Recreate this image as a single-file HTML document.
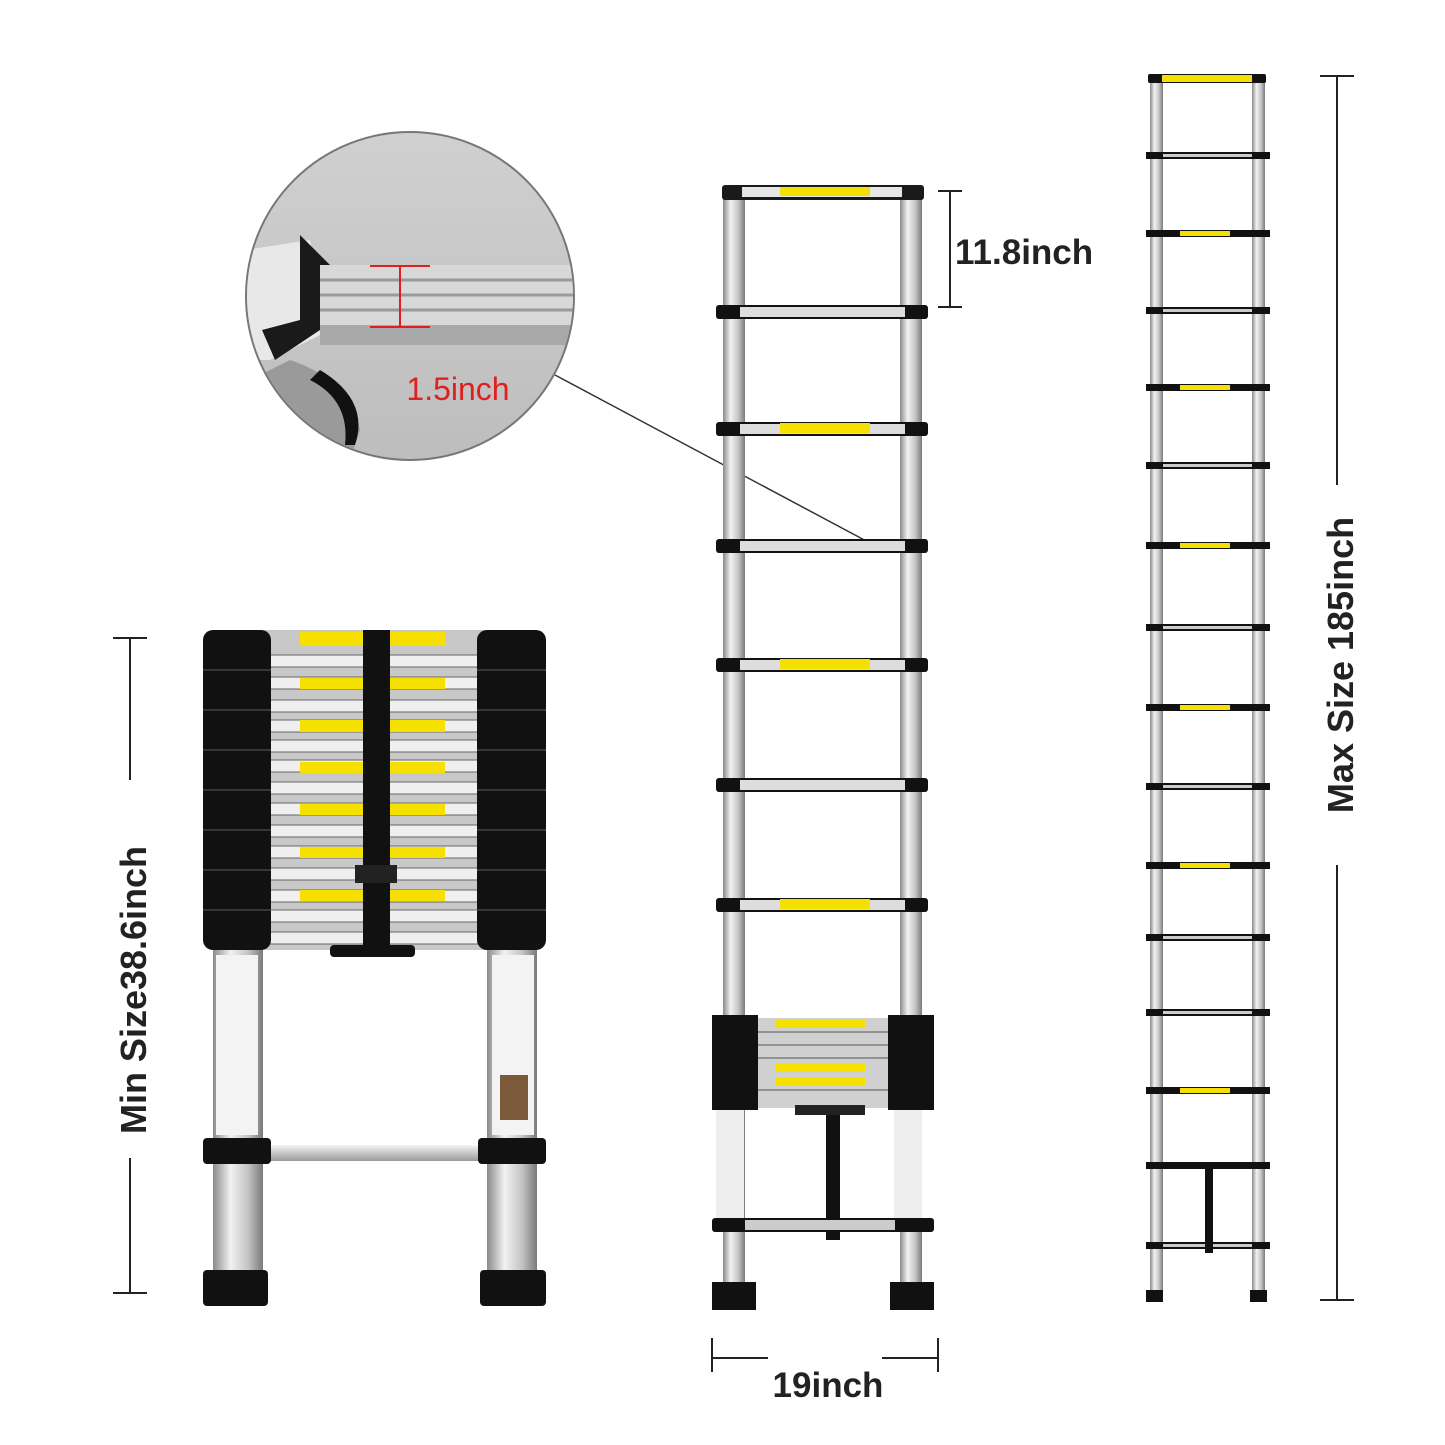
<!DOCTYPE html>
<html><head><meta charset="utf-8"><style>
html,body{margin:0;padding:0;background:#fff;}
svg{display:block}
text{font-family:"Liberation Sans",sans-serif;font-weight:bold;}
</style></head><body>
<svg width="1445" height="1445" viewBox="0 0 1445 1445" xmlns="http://www.w3.org/2000/svg">
<defs>
<linearGradient id="rail" x1="0" x2="1" y1="0" y2="0">
<stop offset="0" stop-color="#8a8a8a"/><stop offset="0.35" stop-color="#f2f2f2"/><stop offset="0.7" stop-color="#c4c4c4"/><stop offset="1" stop-color="#7a7a7a"/></linearGradient>
<linearGradient id="rung" x1="0" x2="0" y1="0" y2="1">
<stop offset="0" stop-color="#f4f4f4"/><stop offset="1" stop-color="#9a9a9a"/></linearGradient>
<linearGradient id="circ" x1="0" x2="0" y1="0" y2="1">
<stop offset="0" stop-color="#d0d0d0"/><stop offset="1" stop-color="#bdbdbd"/></linearGradient>
<clipPath id="cc"><circle cx="410" cy="296" r="163"/></clipPath>
</defs>

<!-- circle inset -->
<circle cx="410" cy="296" r="164" fill="url(#circ)" stroke="#777" stroke-width="2"/>
<g clip-path="url(#cc)">
<path d="M245 250 L310 240 L330 330 L270 360 L245 360Z" fill="#e8e8e8"/>
<path d="M300 235 L330 265 L320 330 L275 360 L262 330 L300 320Z" fill="#1a1a1a"/>
<rect x="320" y="265" width="260" height="60" fill="#d8d8d8"/>
<g stroke="#9a9a9a" stroke-width="3"><line x1="320" y1="280" x2="580" y2="280"/><line x1="320" y1="295" x2="580" y2="295"/><line x1="320" y1="310" x2="580" y2="310"/></g>
<rect x="320" y="325" width="260" height="20" fill="#a8a8a8"/>
<path d="M290 360 Q350 380 360 430 L350 460 L250 460 L250 380Z" fill="#9a9a9a"/>
<path d="M320 370 Q370 400 355 445 L345 445 Q350 400 310 380Z" fill="#111"/>
</g>
<g stroke="#e02020" stroke-width="2"><line x1="370" y1="266" x2="430" y2="266"/><line x1="370" y1="327" x2="430" y2="327"/><line x1="400" y1="266" x2="400" y2="327"/></g>
<text x="458" y="400" font-size="32" fill="#e02020" text-anchor="middle" font-weight="normal" style="font-weight:normal">1.5inch</text>
<line x1="555" y1="375" x2="870" y2="543" stroke="#333" stroke-width="1.5"/>

<!-- middle ladder -->
<rect x="723" y="190" width="22" height="1100" fill="url(#rail)"/>
<rect x="900" y="190" width="22" height="1100" fill="url(#rail)"/>
<rect x="722" y="185" width="202" height="15" rx="3" fill="#1a1a1a"/>
<rect x="742" y="187" width="160" height="10" fill="#e6e6e6"/>
<rect x="780" y="187" width="90" height="9" fill="#f5e000"/>
<g>
<rect x="740" y="306" width="165" height="12" fill="url(#rung)"/><rect x="716" y="305" width="212" height="14" rx="3" fill="#111"/><rect x="740" y="307" width="165" height="10" fill="#ddd"/>
<rect x="716" y="422" width="212" height="14" rx="3" fill="#111"/><rect x="740" y="424" width="165" height="10" fill="#ddd"/><rect x="780" y="423" width="90" height="10" fill="#f5e000"/>
<rect x="716" y="539" width="212" height="14" rx="3" fill="#111"/><rect x="740" y="541" width="165" height="10" fill="#ddd"/>
<rect x="716" y="658" width="212" height="14" rx="3" fill="#111"/><rect x="740" y="660" width="165" height="10" fill="#ddd"/><rect x="780" y="659" width="90" height="10" fill="#f5e000"/>
<rect x="716" y="778" width="212" height="14" rx="3" fill="#111"/><rect x="740" y="780" width="165" height="10" fill="#ddd"/>
<rect x="716" y="898" width="212" height="14" rx="3" fill="#111"/><rect x="740" y="900" width="165" height="10" fill="#ddd"/><rect x="780" y="899" width="90" height="10" fill="#f5e000"/>
</g>
<rect x="712" y="1015" width="46" height="95" fill="#111"/>
<rect x="888" y="1015" width="46" height="95" fill="#111"/>
<rect x="758" y="1018" width="130" height="90" fill="#d0d0d0"/>
<g fill="#f5e000"><rect x="775" y="1020" width="90" height="8"/><rect x="775" y="1063" width="90" height="8"/><rect x="775" y="1078" width="90" height="8"/></g>
<g stroke="#555" stroke-width="1"><line x1="758" y1="1032" x2="888" y2="1032"/><line x1="758" y1="1045" x2="888" y2="1045"/><line x1="758" y1="1058" x2="888" y2="1058"/><line x1="758" y1="1090" x2="888" y2="1090"/></g>
<rect x="716" y="1110" width="28" height="110" fill="#eee"/>
<rect x="894" y="1110" width="28" height="110" fill="#eee"/>
<rect x="826" y="1110" width="14" height="130" fill="#111"/>
<rect x="795" y="1105" width="70" height="10" fill="#222"/>
<rect x="712" y="1218" width="222" height="14" rx="3" fill="#111"/><rect x="745" y="1220" width="150" height="10" fill="#ccc"/>
<rect x="712" y="1282" width="30" height="28" fill="#111"/><rect x="890" y="1282" width="44" height="28" fill="#111"/>
<rect x="712" y="1282" width="44" height="28" fill="#111"/>

<!-- 11.8 dim -->
<g stroke="#222" stroke-width="2"><line x1="950" y1="191" x2="950" y2="307"/><line x1="938" y1="191" x2="962" y2="191"/><line x1="938" y1="307" x2="962" y2="307"/></g>
<text x="955" y="264" font-size="35" fill="#222">11.8inch</text>
<!-- 19 dim -->
<g stroke="#222" stroke-width="2"><line x1="712" y1="1358" x2="768" y2="1358"/><line x1="882" y1="1358" x2="938" y2="1358"/><line x1="712" y1="1338" x2="712" y2="1372"/><line x1="938" y1="1338" x2="938" y2="1372"/></g>
<text x="828" y="1397" font-size="35" fill="#222" text-anchor="middle">19inch</text>

<!-- right ladder -->
<rect x="1150" y="78" width="13" height="1220" fill="url(#rail)"/>
<rect x="1252" y="78" width="13" height="1220" fill="url(#rail)"/>
<rect x="1148" y="74" width="118" height="9" rx="2" fill="#111"/><rect x="1162" y="75" width="90" height="7" fill="#f5e000"/>
<g fill="#111">
<rect x="1146" y="152" width="124" height="7"/><rect x="1146" y="230" width="124" height="7"/><rect x="1146" y="307" width="124" height="7"/><rect x="1146" y="384" width="124" height="7"/><rect x="1146" y="462" width="124" height="7"/><rect x="1146" y="542" width="124" height="7"/><rect x="1146" y="624" width="124" height="7"/><rect x="1146" y="704" width="124" height="7"/><rect x="1146" y="783" width="124" height="7"/><rect x="1146" y="862" width="124" height="7"/><rect x="1146" y="934" width="124" height="7"/><rect x="1146" y="1009" width="124" height="7"/><rect x="1146" y="1087" width="124" height="7"/><rect x="1146" y="1162" width="124" height="7"/><rect x="1146" y="1242" width="124" height="7"/>
</g>
<g fill="#ccc">
<rect x="1163" y="154" width="89" height="3"/><rect x="1163" y="309" width="89" height="3"/><rect x="1163" y="464" width="89" height="3"/><rect x="1163" y="626" width="89" height="3"/><rect x="1163" y="785" width="89" height="3"/><rect x="1163" y="936" width="89" height="3"/><rect x="1163" y="1011" width="89" height="3"/><rect x="1163" y="1244" width="89" height="3"/>
</g>
<g fill="#f5e000">
<rect x="1180" y="231" width="50" height="5"/><rect x="1180" y="385" width="50" height="5"/><rect x="1180" y="543" width="50" height="5"/><rect x="1180" y="705" width="50" height="5"/><rect x="1180" y="863" width="50" height="5"/><rect x="1180" y="1088" width="50" height="5"/>
</g>
<rect x="1205" y="1165" width="8" height="88" fill="#111"/>
<rect x="1146" y="1290" width="17" height="12" fill="#111"/><rect x="1250" y="1290" width="17" height="12" fill="#111"/>
<g stroke="#222" stroke-width="2"><line x1="1337" y1="76" x2="1337" y2="485"/><line x1="1337" y1="865" x2="1337" y2="1300"/><line x1="1320" y1="76" x2="1354" y2="76"/><line x1="1320" y1="1300" x2="1354" y2="1300"/></g>
<text transform="translate(1353,665) rotate(-90)" font-size="36" fill="#222" text-anchor="middle">Max Size  185inch</text>

<!-- left ladder -->
<rect x="250" y="630" width="245" height="320" fill="#c8c8c8"/>
<g fill="#efefef" stroke="#666" stroke-width="1">
<rect x="255" y="655" width="235" height="12"/><rect x="255" y="677" width="235" height="12"/><rect x="255" y="700" width="235" height="12"/><rect x="255" y="720" width="235" height="12"/><rect x="255" y="740" width="235" height="12"/><rect x="255" y="760" width="235" height="12"/><rect x="255" y="782" width="235" height="12"/><rect x="255" y="803" width="235" height="12"/><rect x="255" y="825" width="235" height="12"/><rect x="255" y="846" width="235" height="12"/><rect x="255" y="868" width="235" height="12"/><rect x="255" y="890" width="235" height="12"/><rect x="255" y="910" width="235" height="12"/><rect x="255" y="932" width="235" height="12"/>
</g>
<g fill="#f5e000">
<rect x="300" y="632" width="145" height="14"/><rect x="300" y="678" width="145" height="11"/><rect x="300" y="720" width="145" height="12"/><rect x="300" y="762" width="145" height="11"/><rect x="300" y="804" width="145" height="11"/><rect x="300" y="847" width="145" height="11"/><rect x="300" y="890" width="145" height="11"/>
</g>
<rect x="203" y="630" width="68" height="320" rx="10" fill="#111"/>
<rect x="477" y="630" width="69" height="320" rx="10" fill="#111"/>
<g stroke="#444" stroke-width="1.5">
<line x1="203" y1="670" x2="271" y2="670"/><line x1="203" y1="710" x2="271" y2="710"/><line x1="203" y1="750" x2="271" y2="750"/><line x1="203" y1="790" x2="271" y2="790"/><line x1="203" y1="830" x2="271" y2="830"/><line x1="203" y1="870" x2="271" y2="870"/><line x1="203" y1="910" x2="271" y2="910"/>
<line x1="477" y1="670" x2="546" y2="670"/><line x1="477" y1="710" x2="546" y2="710"/><line x1="477" y1="750" x2="546" y2="750"/><line x1="477" y1="790" x2="546" y2="790"/><line x1="477" y1="830" x2="546" y2="830"/><line x1="477" y1="870" x2="546" y2="870"/><line x1="477" y1="910" x2="546" y2="910"/>
</g>
<rect x="363" y="630" width="27" height="320" fill="#111"/>
<rect x="355" y="865" width="42" height="18" fill="#222"/>
<rect x="330" y="945" width="85" height="12" rx="4" fill="#111"/>
<rect x="213" y="950" width="50" height="330" fill="url(#rail)"/>
<rect x="487" y="950" width="50" height="330" fill="url(#rail)"/>
<rect x="216" y="955" width="42" height="180" fill="#f3f3f3"/>
<rect x="492" y="955" width="42" height="180" fill="#f3f3f3"/>
<rect x="500" y="1075" width="28" height="45" fill="#7a5a3a"/>
<rect x="262" y="1145" width="225" height="16" fill="url(#rung)"/>
<rect x="203" y="1138" width="68" height="26" rx="4" fill="#111"/>
<rect x="478" y="1138" width="68" height="26" rx="4" fill="#111"/>
<rect x="203" y="1270" width="65" height="36" rx="4" fill="#111"/>
<rect x="480" y="1270" width="66" height="36" rx="4" fill="#111"/>
<g stroke="#222" stroke-width="2"><line x1="130" y1="638" x2="130" y2="780"/><line x1="130" y1="1158" x2="130" y2="1293"/><line x1="113" y1="638" x2="147" y2="638"/><line x1="113" y1="1293" x2="147" y2="1293"/></g>
<text transform="translate(146,990) rotate(-90)" font-size="36" fill="#222" text-anchor="middle">Min Size38.6inch</text>
</svg>
</body></html>
